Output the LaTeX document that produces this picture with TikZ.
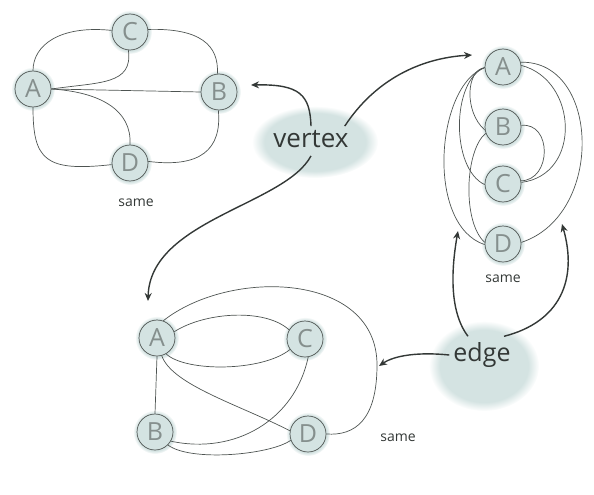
\documentclass[tikz,border=0pt]{standalone}
\usepackage{fontspec}
\setmainfont{Open Sans}
\usetikzlibrary{arrows.meta,backgrounds,fadings}

\definecolor{nodefill}{HTML}{D4E3E2}
\definecolor{glowc}{HTML}{D4E3E2}
\definecolor{linkgray}{HTML}{4E5452}
\definecolor{ink}{HTML}{333836}
\definecolor{letter}{HTML}{858F8D}

\tikzset{
  vtx/.style={circle, draw=linkgray, fill=nodefill, line width=0.7pt,
    minimum size=36pt, inner sep=0pt, text=letter,
    font=\fontsize{25}{25}\selectfont},
  link/.style={draw=linkgray, line width=0.7pt},
  pointer/.style={draw=ink, line width=1.4pt, -{Stealth[length=8pt,width=7pt]}},
  tag/.style={font=\fontsize{14}{14}\selectfont, text=ink},
  bigword/.style={text=ink, inner sep=0pt},
  glow/.style={fill=glowc, path fading=circle with fuzzy edge 20 percent}
}

\begin{document}
\begin{tikzpicture}[x=1pt, y=-1pt]
\useasboundingbox (0,0) rectangle (594,495);

% ---------- graph 1 (top left) ----------
\node[vtx] (C1) at (130,32) {C};
\node[vtx] (A1) at (33,89) {A};
\node[vtx] (B1) at (219,92) {B};
\node[vtx] (D1) at (130,163) {D};
\node[tag] (s1) at (136,203) {same};

\draw[link] (A1.90) .. controls (33,45) and (60,25) .. (C1.175);
\draw[link] (C1.8) .. controls (200,28) and (219,45) .. (B1.95);
\draw[link] (A1.east) -- (B1.west);
\draw[link] (A1.east) .. controls (100,82) and (133,85) .. (C1.265);
\draw[link] (A1.east) .. controls (100,92) and (132,110) .. (D1.north);
\draw[link] (A1.270) .. controls (33,160) and (45,172) .. (D1.185);
\draw[link] (D1.5) .. controls (200,168) and (222,150) .. (B1.268);

% ---------- graph 2 (right) ----------
\node[vtx] (A2) at (503,67) {A};
\node[vtx] (B2) at (503,127) {B};
\node[vtx] (C2) at (503,184) {C};
\node[vtx] (D2) at (503,244) {D};
\node[tag] (s2) at (503,279) {same};

\draw[link] (A2.182) .. controls (466,70) and (464,112) .. (B2.190);
\draw[link] (A2.182) .. controls (452,80) and (450,168) .. (C2.182);
\draw[link] (A2.182) .. controls (436,85) and (425,225) .. (D2.182);
\draw[link] (B2.200) .. controls (465,150) and (462,222) .. (D2.175);
\draw[link] (A2.15) .. controls (600,60) and (605,215) .. (D2.5);
\draw[link] (A2.5) .. controls (578,80) and (582,175) .. (C2.5);
\draw[link] (B2.5) .. controls (552,122) and (552,180) .. (C2.10);

% ---------- graph 3 (bottom) ----------
\node[vtx] (A3) at (157,338) {A};
\node[vtx] (C3) at (305,339) {C};
\node[vtx] (B3) at (155,432) {B};
\node[vtx] (D3) at (308,434) {D};
\node[tag] (s3) at (398,438) {same};

\draw[link] (A3.south) -- (B3.north);
\draw[link] (A3.20) .. controls (205,312) and (265,308) .. (C3.150);
\draw[link] (A3.-60) .. controls (185,372) and (262,372) .. (C3.215);
\draw[link] (A3.-75) .. controls (172,385) and (240,405) .. (D3.170);
\draw[link] (B3.-30) .. controls (235,455) and (295,420) .. (C3.-80);
\draw[link] (B3.-45) .. controls (190,462) and (270,455) .. (D3.200);
\draw[link] (A3.70) .. controls (230,268) and (377,272) .. (377,365)
            .. controls (377,420) and (355,436) .. (D3.east);

% ---------- labels and pointers ----------
\node[bigword, font=\fontsize{26}{26}\selectfont] (vertex) at (311,139) {vertex};
\node[bigword, font=\fontsize{25}{25}\selectfont] (edge) at (482,355) {edge};

\coordinate (pB1) at (251,85);
\coordinate (pA2) at (472,55);
\coordinate (pA3) at (148,301);
\coordinate (pL2) at (458,231);
\coordinate (pR2) at (562,224);
\coordinate (pO3) at (379,366);

\draw[pointer] ([yshift=4pt]vertex.north) .. controls (310,95) and (300,84) .. (pB1);
\draw[pointer] ([xshift=-4pt,yshift=4pt]vertex.north east) .. controls (375,80) and (420,58) .. (pA2);
\draw[pointer] ([yshift=-8pt]vertex.south) .. controls (285,205) and (150,220) .. (pA3);
\draw[pointer] ([xshift=-14pt,yshift=6pt]edge.north) .. controls (448,310) and (452,265) .. (pL2);
\draw[pointer] ([xshift=22pt,yshift=6pt]edge.north) .. controls (560,322) and (578,280) .. (pR2);
\draw[pointer] ([xshift=-4pt]edge.west) .. controls (420,352) and (395,355) .. (pO3);

% ---------- soft glows behind everything ----------
\begin{scope}[on background layer]
  \fill[glow] (315,142) ellipse [x radius=63pt, y radius=36pt];
  \fill[glow] (484,366) ellipse [x radius=55pt, y radius=45pt];
  \foreach \n in {A1,B1,C1,D1,A2,B2,C2,D2,A3,B3,C3,D3}
    \fill[fill=glowc, path fading=circle with fuzzy edge 15 percent] (\n) circle (22pt);
\end{scope}
\end{tikzpicture}
\end{document}
